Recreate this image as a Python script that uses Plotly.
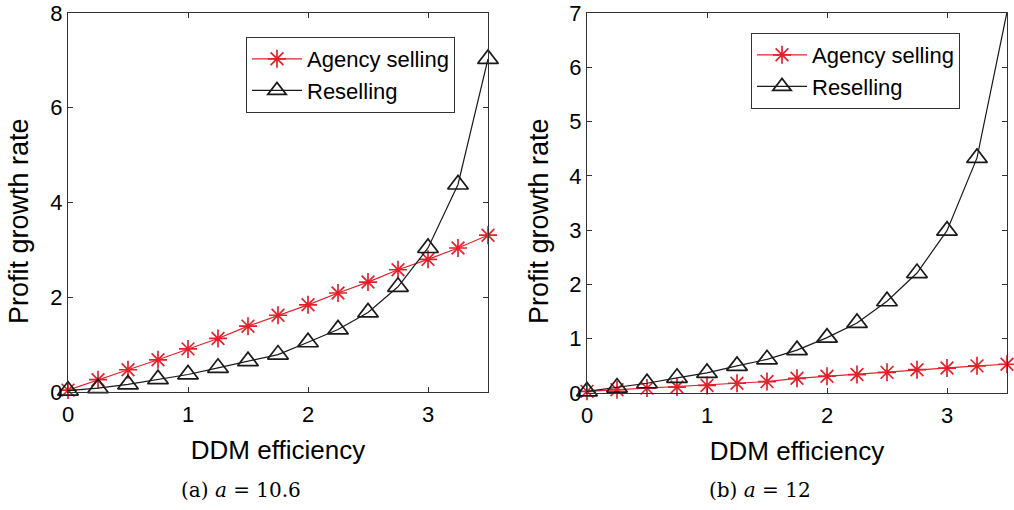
import plotly.graph_objects as go

x_vals = [0, 0.25, 0.5, 0.75, 1.0, 1.25, 1.5, 1.75, 2.0, 2.25, 2.5, 2.75, 3.0, 3.25, 3.5]

agency_a = [0.04, 0.26, 0.47, 0.68, 0.91, 1.13, 1.39, 1.62, 1.84, 2.09, 2.32, 2.58, 2.80, 3.04, 3.31]
resell_a = [0.03, 0.08, 0.16, 0.27, 0.37, 0.51, 0.65, 0.79, 1.05, 1.32, 1.68, 2.22, 3.04, 4.38, 7.03]

agency_b = [0.03, 0.06, 0.09, 0.11, 0.14, 0.18, 0.21, 0.27, 0.31, 0.34, 0.38, 0.43, 0.46, 0.50, 0.53]
resell_b = [0.03, 0.10, 0.18, 0.28, 0.37, 0.50, 0.62, 0.79, 1.02, 1.29, 1.69, 2.21, 2.99, 4.33, 7.02]

series_names = ["Agency selling", "Reselling"]
captions = ["(a) <i>a</i> = 10.6", "(b) <i>a</i> = 12"]
x_title = "DDM efficiency"
y_title = "Profit growth rate"
x_ticks = [0, 1, 2, 3]
y_ticks_a = [0, 2, 4, 6, 8]
y_ticks_b = [0, 1, 2, 3, 4, 5, 6, 7]

RED = "#e4202a"
BLACK = "#1a1a1a"
AX = "#333333"
FONT = "Liberation Sans, Arial, sans-serif"

fig = go.Figure()

def add_pair(agency, resell, xa, ya, leg):
    fig.add_trace(go.Scatter(
        x=x_vals, y=agency, mode="lines+markers", name=series_names[0],
        xaxis=xa, yaxis=ya, legend=leg, cliponaxis=False,
        line=dict(color=RED, width=1.2),
        marker=dict(symbol="asterisk-open", size=15, color=RED,
                    line=dict(color=RED, width=1.7)),
    ))
    fig.add_trace(go.Scatter(
        x=x_vals, y=resell, mode="lines+markers", name=series_names[1],
        xaxis=xa, yaxis=ya, legend=leg, cliponaxis=False,
        line=dict(color=BLACK, width=1.2),
        marker=dict(symbol="triangle-up-open", size=18, color=BLACK,
                    line=dict(color=BLACK, width=1.7)),
    ))

add_pair(agency_a, resell_a, "x", "y", "legend")
add_pair(agency_b, resell_b, "x2", "y2", "legend2")

axis_common = dict(
    showline=True, linecolor=AX, linewidth=1, mirror="ticks", automargin=False,
    ticks="inside", ticklen=5, tickcolor=AX, showgrid=False, zeroline=False,
    ticklabeloverflow="allow",
    tickfont=dict(family=FONT, size=22, color="black"),
)
xtitle = dict(text=x_title, font=dict(family=FONT, size=26, color="black"), standoff=14)

fig.update_layout(
    width=1014, height=510,
    margin=dict(l=0, r=0, t=0, b=0),
    paper_bgcolor="white", plot_bgcolor="white",
    showlegend=True,
    xaxis=dict(domain=[68/1014, 488/1014], range=[0, 3.5], tickvals=x_ticks,
               title=xtitle, anchor="y", ticklabelstandoff=3, **axis_common),
    yaxis=dict(domain=[1-392/510, 1-13/510], range=[0, 8], tickvals=y_ticks_a,
               anchor="x", **axis_common),
    xaxis2=dict(domain=[587/1014, 1007/1014], range=[0, 3.5], tickvals=x_ticks,
                title=xtitle, anchor="y2", ticklabelstandoff=3, **axis_common),
    yaxis2=dict(domain=[1-393/510, 1-13/510], range=[0, 7], tickvals=y_ticks_b,
                anchor="x2", **axis_common),
    legend=dict(x=246/1014, y=1-37/510, xanchor="left", yanchor="top",
                bordercolor=AX, borderwidth=1, bgcolor="white",
                font=dict(family=FONT, size=22, color="black"), itemwidth=50,
                tracegroupgap=0),
    legend2=dict(x=751/1014, y=1-33/510, xanchor="left", yanchor="top",
                 bordercolor=AX, borderwidth=1, bgcolor="white",
                 font=dict(family=FONT, size=22, color="black"), itemwidth=50,
                 tracegroupgap=0),
)

# y-axis titles (placed like the reference, slightly below the axis centre)
for cx in [19/1014, 539/1014]:
    fig.add_annotation(x=cx, y=1-221/510, xref="paper", yref="paper",
                       text=y_title, textangle=-90, showarrow=False,
                       xanchor="center", yanchor="middle",
                       font=dict(family=FONT, size=27, color="black"))

for cx, text in zip([241/1014, 760/1014], captions):
    fig.add_annotation(x=cx, y=1-490/510, xref="paper", yref="paper",
                       text=text, showarrow=False, xanchor="center", yanchor="middle",
                       font=dict(family="DejaVu Serif, Liberation Serif, serif", size=20, color="black"))

fig.write_html("out.html")
